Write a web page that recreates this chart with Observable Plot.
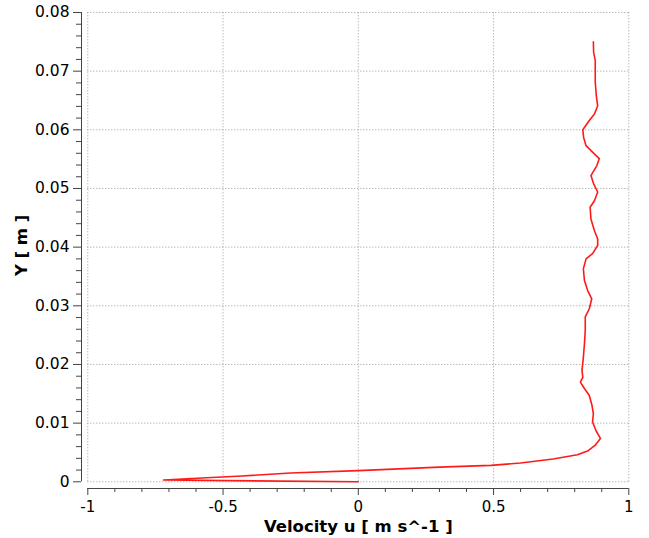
<!DOCTYPE html>
<html>
<head>
<meta charset="utf-8">
<script src="https://cdn.jsdelivr.net/npm/d3@7"></script>
<script src="https://cdn.jsdelivr.net/npm/@observablehq/plot@0.6"></script>
<style>
  body { margin: 0; background: #fff; }
  svg { display: block; }
</style>
</head>
<body>
<div id="chart"></div>
<script>
// Streamwise velocity profile u(Y), ordered from the wall upward
const velocity = [
  0.0, -0.72, -0.56, -0.43, -0.25, 0.0, 0.30, 0.49, 0.60, 0.72,
  0.81, 0.85, 0.875, 0.895, 0.879, 0.866, 0.869, 0.864, 0.854, 0.836,
  0.821, 0.830, 0.827, 0.832, 0.836, 0.839, 0.839, 0.854, 0.863, 0.848,
  0.836, 0.832, 0.842, 0.866, 0.885, 0.885, 0.873, 0.860, 0.857, 0.873,
  0.885, 0.870, 0.860, 0.882, 0.891, 0.866, 0.842, 0.833, 0.830, 0.854,
  0.873, 0.885, 0.880, 0.876, 0.876, 0.876, 0.870, 0.869
];
const heightY = [
  0.0, 0.0003, 0.0007, 0.0010, 0.0015, 0.0019, 0.0025, 0.0028, 0.0032, 0.0039,
  0.0046, 0.0053, 0.0062, 0.0074, 0.0087, 0.0102, 0.0116, 0.0130, 0.0147, 0.0159,
  0.0170, 0.0178, 0.0190, 0.0212, 0.0235, 0.0258, 0.0281, 0.0295, 0.0312, 0.0326,
  0.0343, 0.0363, 0.0380, 0.0389, 0.0403, 0.0414, 0.0428, 0.0448, 0.0468, 0.0479,
  0.0494, 0.0508, 0.0522, 0.0539, 0.0551, 0.0562, 0.0573, 0.0587, 0.0600, 0.0616,
  0.0627, 0.0641, 0.0658, 0.0681, 0.0701, 0.0718, 0.0732, 0.0750
];

// Axis ticks
const xTicks = [-1, -0.5, 0, 0.5, 1];
const xMinorTicks = [-0.9, -0.8, -0.7, -0.6, -0.4, -0.3, -0.2, -0.1, 0.1, 0.2, 0.3, 0.4, 0.6, 0.7, 0.8, 0.9];
const yTicks = [0, 0.01, 0.02, 0.03, 0.04, 0.05, 0.06, 0.07, 0.08];
const yMinorTicks = [];
yTicks.slice(0, -1).forEach(t => [0.002, 0.004, 0.006, 0.008].forEach(s => yMinorTicks.push(+(t + s).toFixed(3))));

const xTitle = "Velocity u [ m s^-1 ]";
const yTitle = "Y [ m ]";

const profile = velocity.map((u, i) => ({u, y: heightY[i]}));

const axisColor = "#444";
const gridStyle = {stroke: "#9a9a9a", strokeDasharray: "1,2", strokeWidth: 1};

const chart = Plot.plot({
  width: 649,
  height: 538,
  marginLeft: 81,
  marginRight: 20.7,
  marginTop: 12,
  marginBottom: 50,
  insetLeft: 6.3,
  insetBottom: 6.7,
  x: {domain: [-1, 1]},
  y: {domain: [0, 0.08]},
  style: {fontFamily: "'DejaVu Sans', Verdana, sans-serif", fontSize: "15px", color: "#000", background: "#fff"},
  marks: [
    // dotted grid at the major ticks
    Plot.ruleX(xTicks, {y1: 0, y2: 0.08, ...gridStyle}),
    Plot.ruleY(yTicks, {x1: -1, x2: 1, ...gridStyle}),
    // offset axis lines
    Plot.ruleX([-1], {y1: 0, y2: 0.08, dx: -6.3, stroke: axisColor}),
    Plot.ruleY([0], {x1: -1, x2: 1, dy: 6.7, stroke: axisColor}),
    // major and minor ticks
    Plot.axisY(yTicks, {anchor: "left", tickSize: 8, tickPadding: 4, tickFormat: d => String(d), stroke: axisColor, fill: "#000", label: null, fontSize: 15.5}),
    Plot.axisY(yMinorTicks, {anchor: "left", tickSize: 5, tickFormat: () => "", stroke: axisColor, label: null}),
    Plot.axisX(xTicks, {anchor: "bottom", tickSize: 7, tickPadding: 6, tickFormat: d => String(d), stroke: axisColor, fill: "#000", label: null, fontSize: 15}),
    Plot.axisX(xMinorTicks, {anchor: "bottom", tickSize: 4, tickFormat: () => "", stroke: axisColor, label: null}),
    // axis titles
    Plot.text([xTitle], {x: 0, frameAnchor: "bottom", dy: 38, lineAnchor: "middle", textAnchor: "middle", text: d => d, fontWeight: "bold", fontSize: 16.5, fill: "#000"}),
    Plot.text([yTitle], {y: 0.0403, frameAnchor: "left", dx: -59.5, rotate: -90, lineAnchor: "middle", textAnchor: "middle", text: d => d, fontWeight: "bold", fontSize: 16.5, fill: "#000"}),
    // velocity profile
    Plot.line(profile, {x: "u", y: "y", stroke: "#ff1a1a", strokeWidth: 1.6})
  ]
});

document.getElementById("chart").appendChild(chart);
</script>
</body>
</html>
